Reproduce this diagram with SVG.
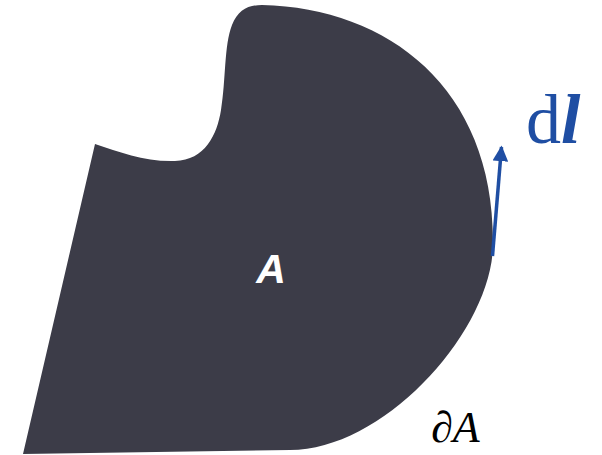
<svg xmlns="http://www.w3.org/2000/svg" width="602" height="455" viewBox="0 0 602 455">
<style>
.shape{fill:#3c3c48}
.lbl{font-family:"Liberation Serif",serif}
.blue{fill:#1f4ea3}
</style>
<defs>
<marker id="ah" viewBox="0 0 10 10" refX="9" refY="5" markerWidth="4.5" markerHeight="4.5" orient="auto" markerUnits="strokeWidth">
<path d="M0,0 L10,5 L0,10 Z" fill="#1f4ea3"/>
</marker>
</defs>
<g id="region">
<path class="shape" d="M95 144 C120 152 145 162 175 161 C205 160 217 135 221 110 C226 80 224 45 232 25 C238 10 248 5 262 5 C390 8 495 90 493 245 C492 330 385 450 290 450 L23 454 Z"/>
<text x="271" y="283" text-anchor="middle" font-family="Liberation Sans, sans-serif" font-weight="bold" font-style="italic" font-size="41" fill="#ffffff">A</text>
</g>
<g id="connectors">
<line x1="492.5" y1="256" x2="501.5" y2="147" stroke="#1f4ea3" stroke-width="3.5" marker-end="url(#ah)"/>
</g>
<g id="labels">
<text class="lbl blue" x="526" y="143" font-size="70">d<tspan font-style="italic" font-weight="bold">l</tspan></text>
<text class="lbl" x="431" y="442" font-size="44" fill="#000">∂<tspan font-style="italic">A</tspan></text>
</g>
</svg>
